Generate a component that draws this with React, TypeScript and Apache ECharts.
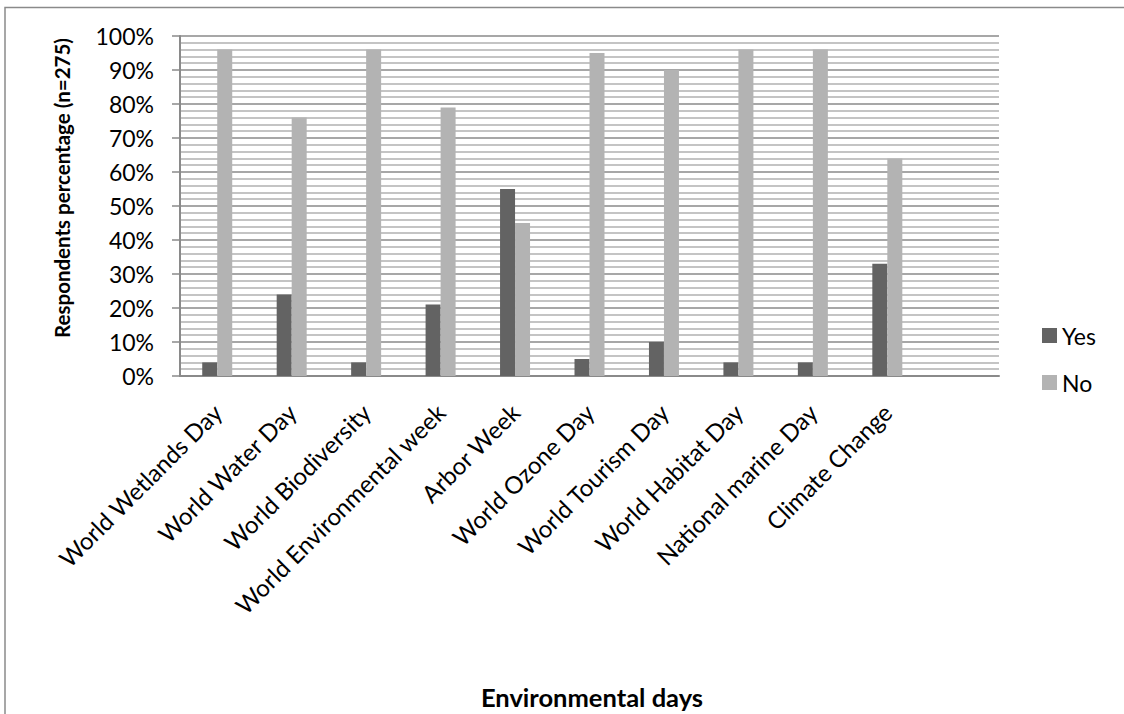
import React, { useEffect, useRef } from "react";
import * as echarts from "echarts";

const categories = [
  "World Wetlands Day",
  "World Water Day",
  "World Biodiversity",
  "World Environmental week",
  "Arbor Week",
  "World Ozone Day",
  "World Tourism Day",
  "World Habitat Day",
  "National marine Day",
  "Climate Change",
  "",
];
const yesValues = [4, 24, 4, 21, 55, 5, 10, 4, 4, 33, null];
const noValues = [96, 76, 96, 79, 45, 95, 90, 96, 96, 64, null];
const seriesNames = ["Yes", "No"];
const yTitle = "Respondents percentage (n=275)";
const xTitle = "Environmental days";

const FONT = "Lato, 'Open Sans', sans-serif";

export default function App() {
  const ref = useRef<HTMLDivElement>(null);
  useEffect(() => {
    if (!ref.current) return;
    const chart = echarts.init(ref.current, null, { renderer: "svg" });
    chart.setOption({
      animation: false,
      backgroundColor: "#ffffff",
      textStyle: { fontFamily: FONT },
      grid: { left: 180, right: 125, top: 36, bottom: 338, containLabel: false },
      legend: {
        orient: "vertical",
        left: 1037,
        top: 319,
        padding: 5,
        itemWidth: 15,
        itemHeight: 15,
        itemGap: 24,
        icon: "rect",
        textStyle: { fontSize: 23, color: "#000", fontFamily: FONT },
        data: seriesNames,
      },
      xAxis: {
        type: "category",
        data: categories,
        axisLine: { show: true, lineStyle: { color: "#8a8a8a", width: 2 } },
        axisTick: { show: false },
        axisLabel: {
          interval: 0,
          rotate: 45,
          fontSize: 24,
          color: "#000",
          margin: 32,
          fontFamily: FONT,
        },
      },
      yAxis: {
        type: "value",
        min: 0,
        max: 100,
        interval: 10,
        axisLine: { show: true, lineStyle: { color: "#8a8a8a", width: 2 } },
        axisTick: { show: true, length: 8, lineStyle: { color: "#8a8a8a", width: 1.5 } },
        axisLabel: {
          formatter: "{value}%",
          fontSize: 23,
          color: "#000",
          margin: 26,
          fontFamily: FONT,
        },
        splitLine: { show: true, lineStyle: { color: "#8a8a8a", width: 1.5 } },
        minorTick: { show: false, splitNumber: 5 },
        minorSplitLine: { show: true, lineStyle: { color: "#c4c4c4", width: 2 } },
      },
      series: [
        {
          name: seriesNames[0],
          type: "bar",
          data: yesValues,
          barWidth: 15,
          barGap: "0%",
          itemStyle: { color: "#636363" },
        },
        {
          name: seriesNames[1],
          type: "bar",
          data: noValues,
          barWidth: 15,
          barGap: "0%",
          itemStyle: { color: "#b3b3b3" },
        },
      ],
      graphic: [
        {
          type: "rect",
          shape: { x: 5, y: 7.5, width: 1300, height: 900 },
          style: { fill: "none", stroke: "#8a8a8a", lineWidth: 1.5 },
          silent: true,
        },
        {
          type: "text",
          x: 62,
          y: 188,
          rotation: Math.PI / 2,
          style: {
            text: yTitle,
            fontSize: 20.5,
            fontWeight: "bold",
            fontFamily: FONT,
            fill: "#000",
            align: "center",
            verticalAlign: "middle",
          },
        },
        {
          type: "text",
          x: 592,
          y: 697,
          style: {
            text: xTitle,
            fontSize: 25.5,
            fontWeight: "bold",
            fontFamily: FONT,
            fill: "#000",
            align: "center",
            verticalAlign: "middle",
          },
        },
      ],
    });
    return () => chart.dispose();
  }, []);
  return (
    <div
      ref={ref}
      style={{ position: "fixed", left: 0, top: 0, width: 1124, height: 714 }}
    />
  );
}
